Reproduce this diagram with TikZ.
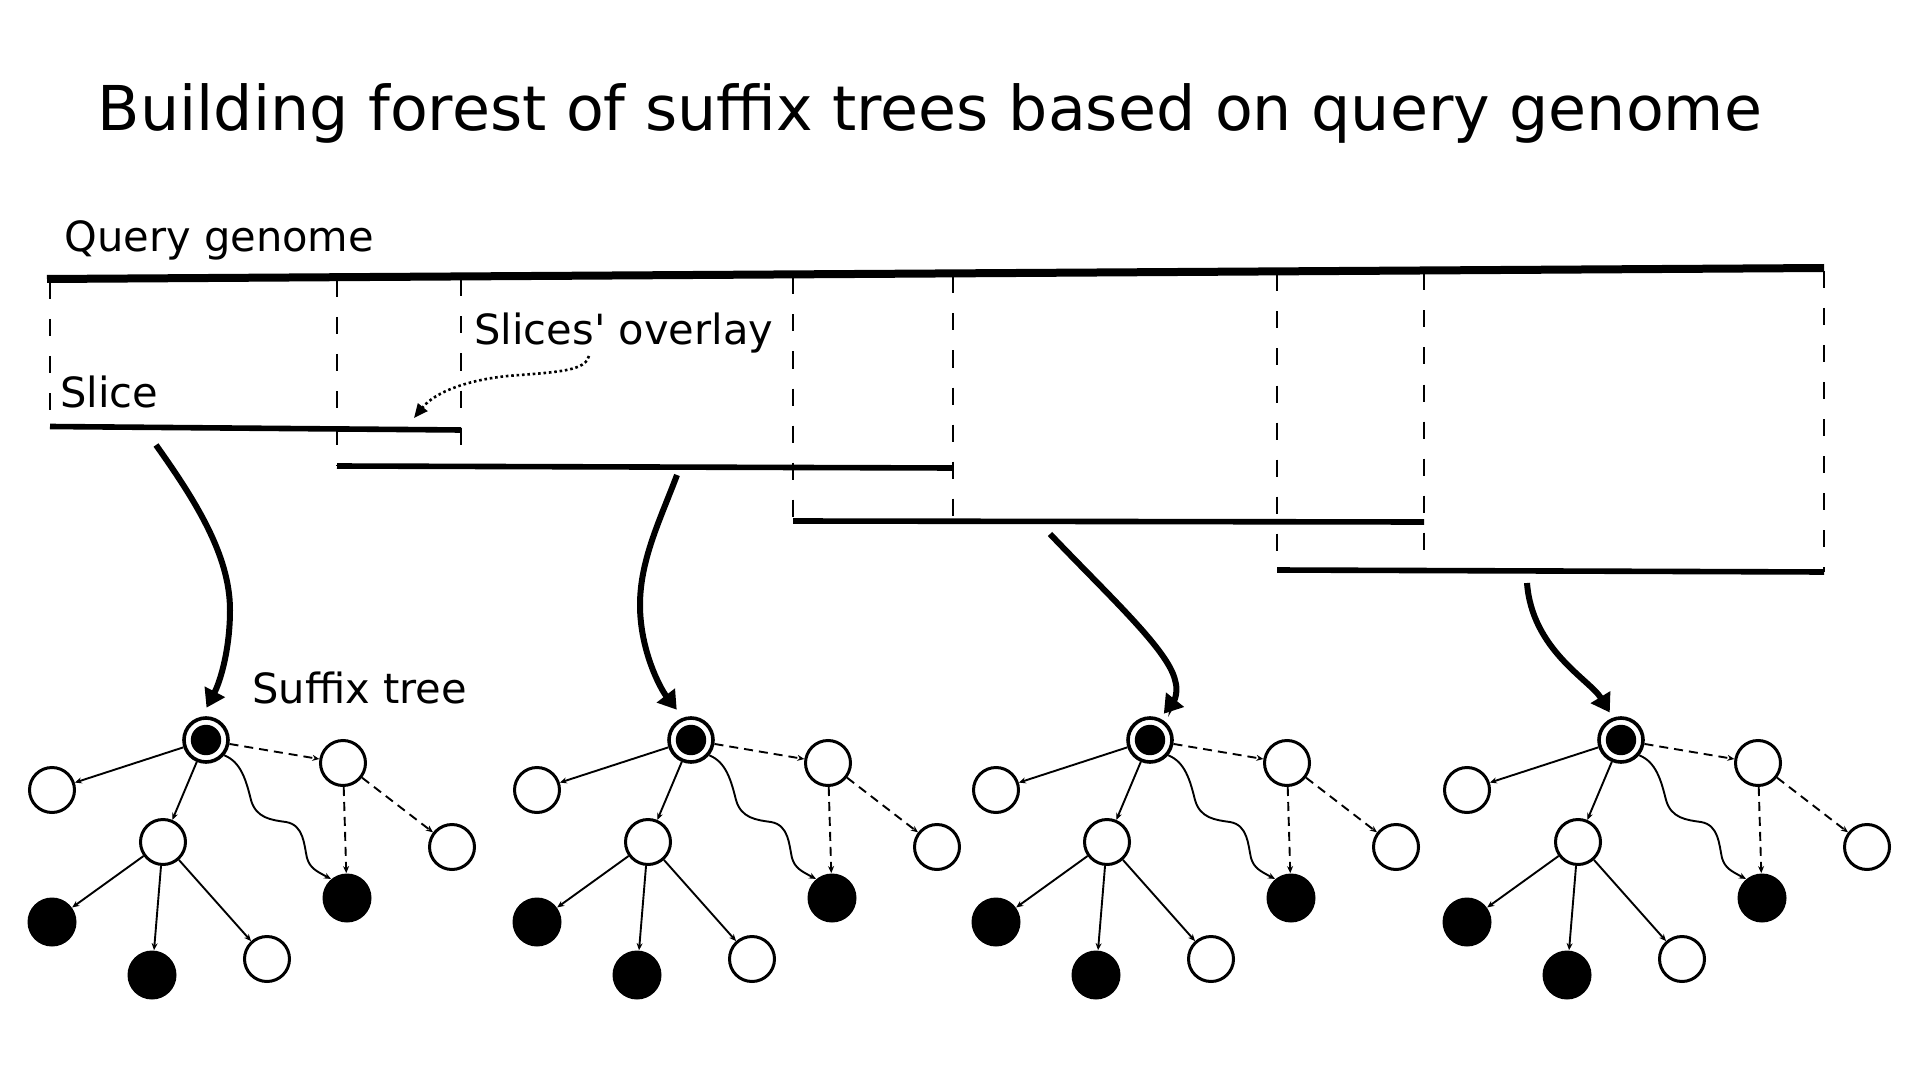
\documentclass[tikz,border=0pt]{standalone}
\usepackage{fontspec}
\setmainfont{DejaVu Sans}[Ligatures=TeXOff]
\usetikzlibrary{arrows.meta}
\begin{document}
\begin{tikzpicture}[x=0.5pt,y=-0.5pt,
  lbl/.style={inner sep=0pt,anchor=base west,font=\fontsize{20.8}{25}\selectfont},
  wnode/.style={circle,draw,line width=1.5pt,minimum size=22.5pt,inner sep=0pt,fill=white},
  bnode/.style={circle,fill=black,minimum size=24.5pt,inner sep=0pt},
  rnode/.style={circle,draw,line width=1.8pt,minimum size=22pt,inner sep=0pt,fill=white,
    path picture={\fill[black] (path picture bounding box.center) circle[radius=7.6pt];}},
  tedge/.style={line width=0.95pt,-{Stealth[length=3.5pt,width=3pt]}},
  tdash/.style={tedge,dash pattern=on 4.5pt off 3pt},
  genome/.style={line width=4pt},
  slicebar/.style={line width=2.8pt},
  guide/.style={line width=1.3pt,dash pattern=on 8.5pt off 10pt},
  bigarrow/.style={line width=3pt,-{Triangle[length=9pt,width=11pt]}},
  ovarrow/.style={line width=1.3pt,dash pattern=on 1.3pt off 1.4pt,-{Triangle[length=7pt,width=6pt]}}
]
\fill[white] (0,0) rectangle (1920,1080);
\useasboundingbox (0,0) rectangle (1920,1080);

% title and labels
\node[inner sep=0pt,anchor=base,font=\fontsize{30.9}{37}\selectfont] (title) at (930,131) {Building forest of suffix trees based on query genome};
\node[lbl] (qlabel) at (64,252) {Query genome};
\node[lbl] (slicelabel) at (60,408) {Slice};
\node[lbl] (overlaylabel) at (474,344) {Slices' overlay};
\node[lbl] (stlabel) at (252,703) {Suffix tree};

% slice end points
\coordinate (g0) at (47,279);
\coordinate (g1) at (1824,268);
\coordinate (s1a) at (50,426.5);
\coordinate (s1b) at (461,430);
\coordinate (s2a) at (337,466);
\coordinate (s2b) at (953,468);
\coordinate (s3a) at (793,521);
\coordinate (s3b) at (1424,522);
\coordinate (s4a) at (1277,570);
\coordinate (s4b) at (1824,572);

% dashed guides
\draw[guide] (50,282) -- (s1a);
\draw[guide] (337,280) -- (s2a);
\draw[guide] (461,279.5) -- (461,466);
\draw[guide] (793,277.5) -- (s3a);
\draw[guide] (953,276.5) -- (953,521);
\draw[guide] (1277,274.5) -- (s4a);
\draw[guide] (1424,273.5) -- (1424,570);
\draw[guide] (1824,271) -- (s4b);

% genome and slices
\draw[genome] (g0) -- (g1);
\draw[slicebar] (s1a) -- (s1b);
\draw[slicebar] (s2a) -- (s2b);
\draw[slicebar] (s3a) -- (s3b);
\draw[slicebar] (s4a) -- (s4b);

% overlay pointer
\coordinate (ov0) at (589,356);
\coordinate (ov1) at (414,418);
\draw[ovarrow] (ov0) .. controls (586,370) and (560,372) .. (520,375) .. controls (470,378) and (435,392) .. (ov1);

% trees
\foreach \i/\x in {1/206,2/691,3/1150,4/1621}{
  \begin{scope}[shift={(\x,740)}]
    \node[rnode] (r\i) at (0,0) {};
    \node[wnode] (a\i) at (-154,50) {};
    \node[wnode] (b\i) at (-43,102) {};
    \node[wnode] (c\i) at (137,23) {};
    \node[wnode] (d\i) at (246,107) {};
    \node[bnode] (e\i) at (141,158) {};
    \node[bnode] (f\i) at (-154,182) {};
    \node[bnode] (g\i) at (-54,235) {};
    \node[wnode] (h\i) at (61,219) {};
    \draw[tedge] (r\i) -- (a\i);
    \draw[tedge] (r\i) -- (b\i);
    \draw[tdash] (r\i) -- (c\i);
    \draw[tdash] (c\i) -- (d\i);
    \draw[tdash] (c\i) -- (e\i);
    \draw[tedge] (b\i) -- (f\i);
    \draw[tedge] (b\i) -- (g\i);
    \draw[tedge] (b\i) -- (h\i);
    \draw[tedge] (r\i.-40) .. controls (35,22) and (40,40) .. (45,60)
       .. controls (50,78) and (65,80) .. (80,82)
       .. controls (98,85) and (98,105) .. (101,118)
       .. controls (104,128) and (110,131) .. (e\i.130);
  \end{scope}
}

% big arrows from slices to trees
\coordinate (a1s) at (156,445);
\coordinate (a2s) at (677,475);
\coordinate (a3s) at (1050,534);
\coordinate (a4s) at (1527,583);
\draw[bigarrow,shorten >=5pt] (a1s) .. controls (195,500) and (230,555) .. (230,610) .. controls (230,650) and (220,682) .. (r1.100);
\draw[bigarrow,shorten >=5pt] (a2s) .. controls (660,520) and (640,560) .. (640,605) .. controls (640,650) and (660,688) .. (r2.110);
\draw[bigarrow,shorten >=3pt] (a3s) .. controls (1110,597) and (1168,650) .. (1175,680) .. controls (1180,697) and (1170,706) .. (r3.65);
\draw[bigarrow,shorten >=3pt] (a4s) .. controls (1532,650) and (1590,680) .. (r4.110);
\end{tikzpicture}
\end{document}
